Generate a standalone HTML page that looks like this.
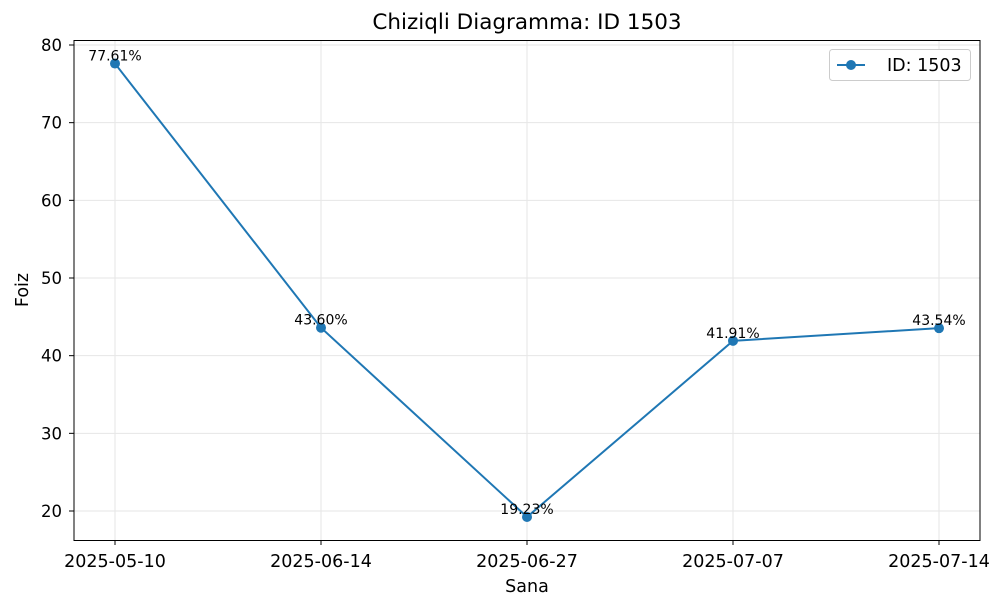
<!DOCTYPE html>
<html><head><meta charset="utf-8"><style>
body{margin:0;background:#fff;}
svg text{font-family:"DejaVu Sans","Liberation Sans",sans-serif;}
</style></head><body>
<svg id="chart" width="1004" height="609" xmlns="http://www.w3.org/2000/svg">
<rect width="1004" height="609" fill="#fff"/>
<text x="527" y="29" font-size="21.5" text-anchor="middle" fill="#000">Chiziqli Diagramma: ID 1503</text>
<g id="grid"></g>
<g id="axes"></g>
<g id="series"></g>
<rect x="74" y="40.5" width="906" height="500" fill="none" stroke="#000" stroke-width="1"/>
<text x="527" y="592" font-size="17.5" text-anchor="middle">Sana</text>
<text x="28" y="290" font-size="17.5" text-anchor="middle" transform="rotate(-90 28 290)">Foiz</text>
<g>
<rect x="829.5" y="49.5" width="141" height="31" rx="3" fill="#fff" stroke="#ccc"/>
<line x1="837" y1="65" x2="865" y2="65" stroke="#1f77b4" stroke-width="2"/>
<circle cx="851" cy="65" r="5" fill="#1f77b4"/>
<text x="887" y="71" font-size="17.5">ID: 1503</text>
</g>
</svg>
<script>
const categories=["2025-05-10","2025-06-14","2025-06-27","2025-07-07","2025-07-14"];
const values=[77.61,43.60,19.23,41.91,43.54];
const yTicks=[20,30,40,50,60,70,80];
const NS="http://www.w3.org/2000/svg";
function xs(i){return 115+i*206;}
function ys(v){return 511-(v-20)*(466/60);}
function mk(tag,attrs,parent,text){const e=document.createElementNS(NS,tag);for(const k in attrs)e.setAttribute(k,attrs[k]);if(text!==undefined)e.textContent=text;document.getElementById(parent).appendChild(e);return e;}
yTicks.forEach(t=>{
 const y=ys(t);
 let g=mk('line',{x1:74,x2:980,y1:y,y2:y,stroke:'#e6e6e6','stroke-width':1},'grid');
 
 
 let tk=mk('line',{x1:69,x2:74,y1:y,y2:y,stroke:'#000'},'axes');
 
 
 let l=mk('text',{x:62,y:y+6,'font-size':16.5,'text-anchor':'end'},'axes',String(t));
 
 
});
categories.forEach((c,i)=>{
 const x=xs(i);
 let g=mk('line',{x1:x,x2:x,y1:40,y2:540,stroke:'#e6e6e6','stroke-width':1},'grid');
 
 
 let tk=mk('line',{x1:x,x2:x,y1:540,y2:545,stroke:'#000'},'axes');
 
 
 let l=mk('text',{x:x,y:567,'font-size':17.5,'text-anchor':'middle'},'axes',c);
 
 
});
const pts=values.map((v,i)=>xs(i)+','+ys(v)).join(' ');
let pl=mk('polyline',{points:pts,fill:'none',stroke:'#1f77b4','stroke-width':2},'series');


values.forEach((v,i)=>{
 let c=mk('circle',{cx:xs(i),cy:ys(v),r:5,fill:'#1f77b4'},'series');
 
 
 let t=mk('text',{x:xs(i),y:ys(v)-3,'font-size':14,'text-anchor':'middle'},'series',v.toFixed(2)+'%');
 
 
});
</script>
</body></html>
